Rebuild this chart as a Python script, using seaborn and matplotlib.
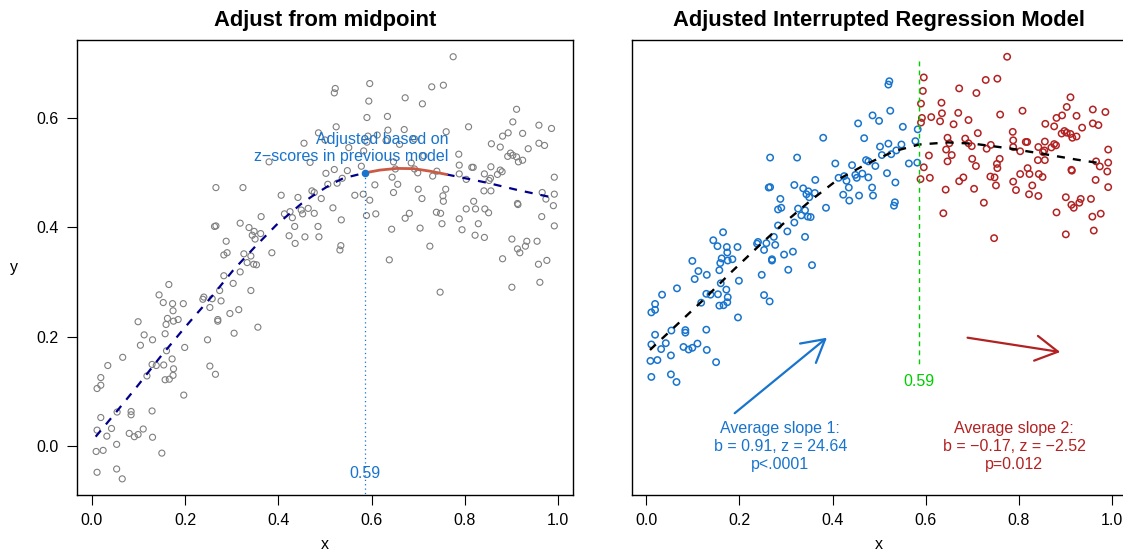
import numpy as np
import pandas as pd
import matplotlib
matplotlib.use("Agg")
import matplotlib.pyplot as plt
import seaborn as sns

# ---------------------------------------------------------------- data
x_obs = [
    0.165, 0.144, 0.153, 0.173, 0.196, 0.174, 0.162, 0.175, 0.185, 0.159,
    0.099, 0.112, 0.130, 0.157, 0.104, 0.160, 0.199, 0.066, 0.034, 0.172,
    0.129, 0.138, 0.154, 0.175, 0.174, 0.118, 0.157, 0.166, 0.019, 0.019,
    0.011, 0.197, 0.054, 0.084, 0.084, 0.129, 0.019, 0.011, 0.042, 0.032,
    0.080, 0.091, 0.099, 0.110, 0.130, 0.053, 0.009, 0.024, 0.150, 0.011,
    0.053, 0.065,
    0.266, 0.324, 0.363, 0.318, 0.263, 0.266, 0.337, 0.348, 0.344, 0.362,
    0.350, 0.288, 0.290, 0.283, 0.326, 0.341, 0.333, 0.347, 0.353, 0.318,
    0.283, 0.303, 0.274, 0.341, 0.238, 0.240, 0.258, 0.277, 0.253, 0.315,
    0.296, 0.270, 0.270, 0.305, 0.356, 0.248, 0.253, 0.265,
    0.522, 0.520, 0.524, 0.486, 0.455, 0.551, 0.380, 0.468,
    0.502, 0.520, 0.526, 0.537, 0.548, 0.506,
    0.472, 0.477, 0.492, 0.406, 0.442, 0.517, 0.535,
    0.413, 0.425, 0.430, 0.449, 0.452, 0.464, 0.477,
    0.435, 0.485, 0.423, 0.457, 0.487, 0.436, 0.534, 0.532, 0.386,
    0.500,
    0.596, 0.672, 0.709, 0.729, 0.594, 0.590, 0.634, 0.635, 0.670, 0.612,
    0.590, 0.660, 0.583, 0.712, 0.647, 0.685, 0.578, 0.651, 0.692, 0.699,
    0.731, 0.644, 0.607, 0.656, 0.700, 0.647, 0.564, 0.582, 0.596, 0.708,
    0.589, 0.609, 0.672, 0.681, 0.643, 0.704, 0.725, 0.638,
    0.592, 0.631, 0.692,
    0.911, 0.808, 0.903, 0.924, 0.893, 0.760, 0.881, 0.857, 0.876, 0.936, 0.787,
    0.898, 0.903, 0.911, 0.892, 0.915, 0.924,
    0.788, 0.815, 0.818, 0.856, 0.740, 0.788, 0.803, 0.842, 0.876, 0.880,
    0.870, 0.855, 0.852,
    0.841, 0.856, 0.759, 0.753, 0.754, 0.819, 0.913, 0.914, 0.803, 0.823,
    0.843, 0.851, 0.739, 0.748, 0.788, 0.751, 0.829, 0.794, 0.822, 0.842,
    0.901, 0.933, 0.930, 0.913, 0.918, 0.881, 0.747, 0.901,
    0.775, 0.754, 0.959, 0.986, 0.959, 0.971, 0.992, 0.966, 0.992, 0.974,
    0.990, 0.965, 0.992, 0.955, 0.958, 0.976, 0.961,
]
y_obs = [
    0.295, 0.276, 0.262, 0.260, 0.260, 0.247, 0.233, 0.228, 0.231, 0.222,
    0.227, 0.203, 0.194, 0.205, 0.184, 0.174, 0.180, 0.162, 0.147, 0.159,
    0.149, 0.147, 0.148, 0.141, 0.129, 0.128, 0.121, 0.122, 0.125, 0.111,
    0.105, 0.093, 0.062, 0.063, 0.057, 0.064, 0.052, 0.029, 0.032, 0.018,
    0.023, 0.017, 0.021, 0.031, 0.016, 0.003, -0.010, -0.008, -0.013, -0.048,
    -0.042, -0.060,
    0.472, 0.472, 0.419, 0.407, 0.401, 0.402, 0.399, 0.392, 0.385, 0.388,
    0.378, 0.374, 0.353, 0.349, 0.351, 0.347, 0.335, 0.332, 0.331, 0.318,
    0.311, 0.297, 0.284, 0.284, 0.268, 0.272, 0.269, 0.265, 0.253, 0.249,
    0.242, 0.231, 0.228, 0.206, 0.217, 0.194, 0.146, 0.131,
    0.653, 0.645, 0.583, 0.572, 0.553, 0.545, 0.519, 0.518,
    0.498, 0.505, 0.480, 0.489, 0.503, 0.478,
    0.466, 0.463, 0.452, 0.458, 0.454, 0.435, 0.413,
    0.424, 0.428, 0.417, 0.431, 0.424, 0.434, 0.425,
    0.401, 0.401, 0.384, 0.382, 0.382, 0.370, 0.366, 0.358, 0.353,
    0.559,
    0.662, 0.636, 0.625, 0.656, 0.630, 0.600, 0.602, 0.577, 0.578, 0.568,
    0.555, 0.551, 0.539, 0.530, 0.519, 0.517, 0.511, 0.506, 0.506, 0.499,
    0.493, 0.491, 0.477, 0.478, 0.469, 0.463, 0.458, 0.460, 0.449, 0.452,
    0.421, 0.424, 0.416, 0.425, 0.396, 0.398, 0.365, 0.340,
    0.566, 0.558, 0.561,
    0.615, 0.583, 0.592, 0.571, 0.572, 0.574, 0.566, 0.552, 0.546, 0.543, 0.533,
    0.535, 0.531, 0.528, 0.529, 0.519, 0.522,
    0.513, 0.509, 0.509, 0.510, 0.502, 0.497, 0.487, 0.497, 0.504, 0.501,
    0.496, 0.489, 0.485,
    0.466, 0.466, 0.469, 0.457, 0.447, 0.447, 0.443, 0.441, 0.433, 0.433,
    0.433, 0.426, 0.427, 0.425, 0.415, 0.406, 0.406, 0.395, 0.385, 0.381,
    0.378, 0.374, 0.365, 0.360, 0.353, 0.342, 0.281, 0.290,
    0.711, 0.659, 0.586, 0.580, 0.553, 0.549, 0.491, 0.463, 0.460, 0.451,
    0.439, 0.419, 0.402, 0.374, 0.332, 0.339, 0.299,
]

# breakpoint of the interrupted regression
breakpoint_x = 0.586
breakpoint_y = 0.499

# fitted curve up to the breakpoint (left panel)
pre_x = [0.008, 0.053, 0.099, 0.146, 0.192, 0.210, 0.257, 0.303, 0.350,
         0.396, 0.425, 0.450, 0.479, 0.511, 0.539, 0.586]
pre_y = [0.017, 0.063, 0.111, 0.162, 0.209, 0.227, 0.273, 0.321, 0.364,
         0.404, 0.425, 0.443, 0.460, 0.477, 0.489, 0.499]
# adjusted segment after the breakpoint
adj_x = [0.586, 0.618, 0.654, 0.690, 0.725, 0.761]
adj_y = [0.499, 0.504, 0.507, 0.5066, 0.502, 0.496]
# remaining fitted trend
post_x = [0.761, 0.847, 0.911, 0.993]
post_y = [0.496, 0.481, 0.468, 0.453]

# fitted curve of the interrupted model (right panel)
fit_x = [0.008, 0.069, 0.123, 0.185, 0.247, 0.293, 0.355, 0.409, 0.470,
         0.532, 0.586, 0.648, 0.702, 0.779, 0.856, 0.925, 0.979]
fit_y = [0.016, 0.079, 0.135, 0.203, 0.268, 0.314, 0.372, 0.418, 0.455,
         0.487, 0.503, 0.508, 0.505, 0.494, 0.480, 0.467, 0.458]

slope_labels = ["Average slope 1:", "Average slope 2:"]
slope_stats = ["b = 0.91, z = 24.64", "b = \u22120.17, z = \u22122.52"]
slope_pvals = ["p<.0001", "p=0.012"]
slope_text_x = [0.288, 0.790]
arrow_tails = [(0.190, -0.134), (0.690, 0.045)]
arrow_heads = [(0.388, 0.045), (0.889, 0.011)]

x_ticks = [0.0, 0.2, 0.4, 0.6, 0.8, 1.0]
y_ticks = [0.0, 0.2, 0.4, 0.6]

# ---------------------------------------------------------------- style
GRAY = "#7F7F7F"
NAVY = "#00008B"
ADJ_RED = "#CB5A45"
BLUE = "#1874CD"
RED = "#B22222"
GREEN = "#00CD00"

sns.set_theme(style="ticks")
plt.rcParams.update({
    "font.family": ["Liberation Sans", "DejaVu Sans"],
    "text.color": "black",
    "axes.labelcolor": "black",
    "axes.titlecolor": "black",
    "axes.edgecolor": "black",
    "axes.linewidth": 1.0,
    "xtick.color": "black",
    "ytick.color": "black",
    "xtick.major.size": 7,
    "ytick.major.size": 7,
    "xtick.major.width": 0.8,
    "ytick.major.width": 0.8,
    "xtick.major.pad": 6,
    "ytick.major.pad": 6.5,
    "xtick.labelsize": 11.5,
    "ytick.labelsize": 11.5,
})

df = pd.DataFrame({"x": x_obs, "y": y_obs})
df["segment"] = np.where(df["x"] < breakpoint_x, "before", "after")

fig = plt.figure(figsize=(11.23, 5.5), dpi=100)
ax1 = fig.add_axes([0.0690, 0.1007, 0.4412, 0.8260])
ax2 = fig.add_axes([0.5626, 0.1007, 0.4408, 0.8260])

# ---------------------------------------------------------------- left panel
sns.scatterplot(data=df, x="x", y="y", ax=ax1, color=GRAY, facecolor="none",
                edgecolor=GRAY, s=19, linewidth=0.8, legend=False, zorder=2)
sns.lineplot(x=pre_x, y=pre_y, ax=ax1, color=NAVY, lw=1.6,
             linestyle=(0, (3.6, 3.6)), sort=False, estimator=None, zorder=3)
sns.lineplot(x=post_x, y=post_y, ax=ax1, color=NAVY, lw=1.6,
             linestyle=(0, (3.6, 3.6)), sort=False, estimator=None, zorder=3)
sns.lineplot(x=adj_x, y=adj_y, ax=ax1, color=ADJ_RED, lw=2.0,
             sort=False, estimator=None, zorder=4)
ax1.plot([breakpoint_x, breakpoint_x], [breakpoint_y, -0.2], color=BLUE,
         lw=0.9, linestyle=(0, (1, 2.5)), zorder=3)
ax1.scatter([breakpoint_x], [breakpoint_y], s=30, color=BLUE, zorder=5,
            linewidths=0)
ax1.text(0.764, 0.5445, "Adjusted based on\nz\u2212scores in previous model",
         color=BLUE, fontsize=11.5, ha="right", va="center",
         multialignment="right", linespacing=1.2, zorder=6)
ax1.text(breakpoint_x, -0.050, f"{breakpoint_x:.2f}", color=BLUE,
         fontsize=11.5, ha="center", va="center", zorder=6)

ax1.set_xlim(-0.031, 1.032)
ax1.set_ylim(-0.0888, 0.741)
ax1.set_xticks(x_ticks)
ax1.set_yticks(y_ticks)
ax1.set_title("Adjust from midpoint", fontsize=15.8, fontweight="bold",
              color="black", pad=10)
ax1.set_xlabel("x", fontsize=11.5)
ax1.set_ylabel("y", fontsize=11.5, rotation=0)
ax1.xaxis.set_label_coords(0.5, -0.093)
ax1.xaxis.label.set_verticalalignment("top")
ax1.yaxis.set_label_coords(-0.128, 0.5)
ax1.yaxis.label.set_horizontalalignment("center")
ax1.yaxis.label.set_verticalalignment("center")

# ---------------------------------------------------------------- right panel
seg_colors = {"before": BLUE, "after": RED}
for seg, col in seg_colors.items():
    sub = df[df["segment"] == seg]
    sns.scatterplot(data=sub, x="x", y="y", ax=ax2, color=col,
                    facecolor="none", edgecolor=col, s=21, linewidth=1.1,
                    legend=False, zorder=2)
sns.lineplot(x=fit_x, y=fit_y, ax=ax2, color="black", lw=1.7,
             linestyle=(0, (3.4, 3.4)), sort=False, estimator=None, zorder=3)
ax2.plot([breakpoint_x, breakpoint_x], [0.700, -0.019], color=GREEN, lw=1.0,
         linestyle=(0, (3.5, 3.0)), zorder=3)
ax2.text(breakpoint_x, -0.0586, f"{breakpoint_x:.2f}", color=GREEN,
         fontsize=11.5, ha="center", va="center")

for i, col in enumerate([BLUE, RED]):
    ax2.annotate("", xy=arrow_heads[i], xytext=arrow_tails[i],
                 arrowprops=dict(arrowstyle="->,head_length=0.8,head_width=0.45",
                                 color=col, lw=1.6, mutation_scale=20,
                                 shrinkA=0, shrinkB=0))
    ax2.text(slope_text_x[i], -0.2132,
             f"{slope_labels[i]}\n{slope_stats[i]}\n{slope_pvals[i]}",
             color=col, fontsize=11.5, ha="center", va="center",
             multialignment="center", linespacing=1.22)

ax2.set_xlim(-0.031, 1.032)
ax2.set_ylim(-0.327, 0.750)
ax2.set_xticks(x_ticks)
ax2.set_yticks([])
ax2.set_title("Adjusted Interrupted Regression Model", fontsize=15.8,
              fontweight="bold", color="black", pad=10)
ax2.set_xlabel("x", fontsize=11.5)
ax2.set_ylabel("")
ax2.xaxis.set_label_coords(0.5, -0.093)
ax2.xaxis.label.set_verticalalignment("top")

fig.savefig("out.png", dpi=100)
